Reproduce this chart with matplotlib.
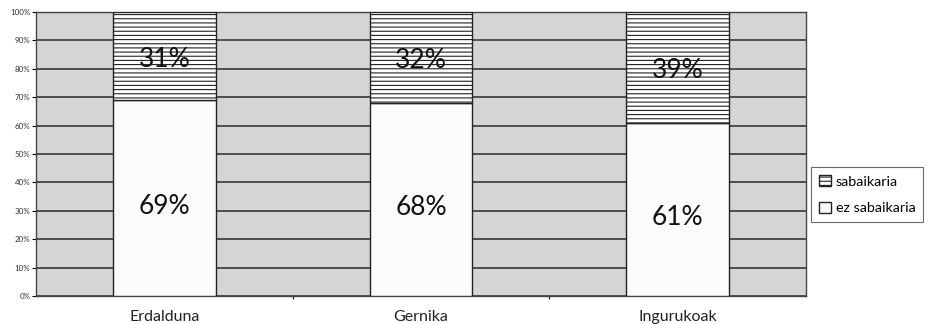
import matplotlib.pyplot as plt
import numpy as np

categories = ["Erdalduna", "Gernika", "Ingurukoak"]
ez_sabaikaria = [69, 68, 61]
sabaikaria = [31, 32, 39]

plt.rcParams["font.family"] = ["Lato", "DejaVu Sans"]
plt.rcParams["hatch.linewidth"] = 0.8
plt.rcParams["hatch.color"] = "#222222"

fig = plt.figure(figsize=(9.3, 3.24), dpi=100)
ax = fig.add_axes([0.0387, 0.0864, 0.828, 0.877])
ax.set_facecolor("#d5d5d5")

x = np.arange(len(categories))
w = 0.4
b1 = ax.bar(x, ez_sabaikaria, w, color="#fbfbfb", edgecolor="#222222", linewidth=1, zorder=3,
            label="ez sabaikaria")
b2 = ax.bar(x, sabaikaria, w, bottom=ez_sabaikaria, color="white", edgecolor="#222222",
            hatch="----", linewidth=1, zorder=3, label="sabaikaria")

for i in range(len(categories)):
    ax.text(x[i], ez_sabaikaria[i] / 2 - 3, f"{ez_sabaikaria[i]}%", ha="center", va="center",
            fontsize=19, color="#111111", zorder=4)
    ax.text(x[i], ez_sabaikaria[i] + sabaikaria[i] / 2 - 1.2, f"{sabaikaria[i]}%", ha="center",
            va="center", fontsize=19, color="#111111", zorder=4)

ax.set_xlim(-0.5, 2.5)
ax.set_ylim(0, 100)
ax.set_yticks(np.arange(0, 101, 10))
ax.set_yticklabels([f"{v}%" for v in range(0, 101, 10)], fontsize=5.8, color="#333333")
ax.yaxis.grid(True, color="#2a2a2a", linewidth=1.1)
ax.set_axisbelow(True)
ax.tick_params(axis="y", length=3, width=0.8, pad=1)

ax.set_xticks(x)
ax.set_xticklabels(categories, fontsize=11.5, color="#222222")
ax.set_xticks([0.5, 1.5], minor=True)
ax.tick_params(axis="x", which="major", length=0, pad=10)
ax.tick_params(axis="x", which="minor", length=2, width=0.8)

for s in ax.spines.values():
    s.set_color("#444444")
    s.set_linewidth(1)

leg = ax.legend(handles=[b2, b1], loc="center left", bbox_to_anchor=(1.007, 0.356),
                fontsize=10.3, frameon=True, fancybox=False, edgecolor="#444444",
                handlelength=0.8, handleheight=0.8, handletextpad=0.35,
                borderpad=0.55, labelspacing=1.0, borderaxespad=0)
leg.get_frame().set_linewidth(0.8)

fig.savefig("out.png", dpi=100)
